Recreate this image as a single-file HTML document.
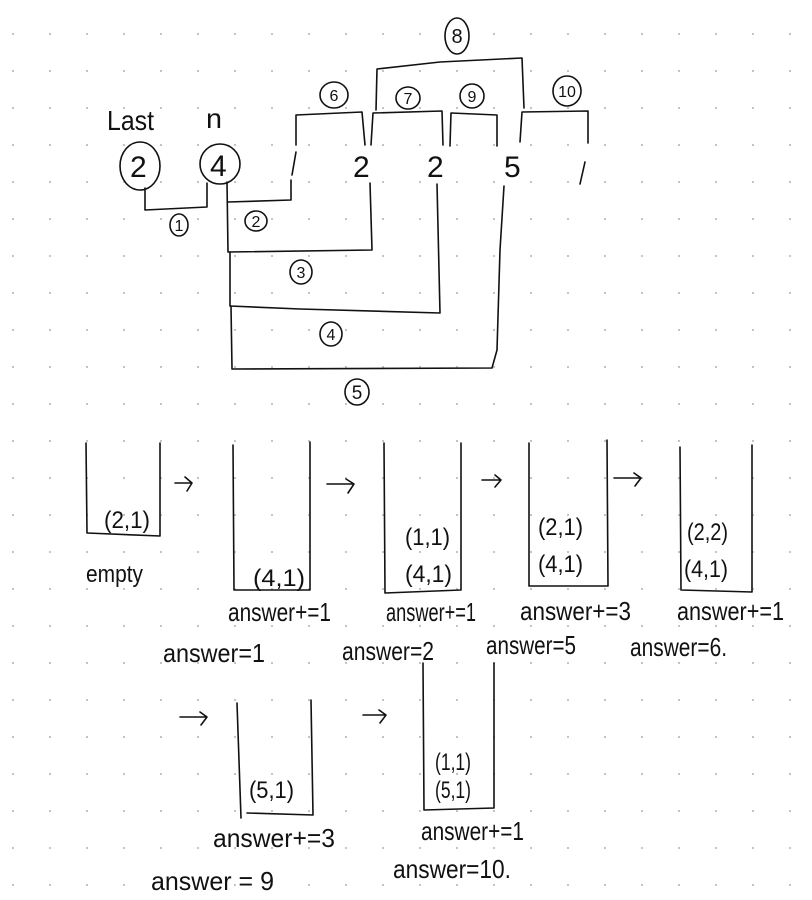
<!DOCTYPE html>
<html><head><meta charset="utf-8"><style>
html,body{margin:0;padding:0;background:#fff;}
svg{display:block;}
text{font-family:"Liberation Sans Narrow","Liberation Sans",sans-serif;fill:#111;}
</style></head><body>
<svg width="812" height="900" viewBox="0 0 812 900" xmlns="http://www.w3.org/2000/svg">
<defs>
<pattern id="dots" x="0" y="0" width="37" height="37" patternUnits="userSpaceOnUse">
<rect x="12" y="33" width="2" height="2" fill="#c4c4c4"/>
</pattern>
</defs>
<rect width="812" height="900" fill="#fff"/>
<rect width="812" height="900" fill="url(#dots)"/>
<g fill="none" stroke="#111" stroke-width="1.6" stroke-linecap="round" stroke-linejoin="round">
<ellipse cx="140" cy="166" rx="20" ry="24"/>
<ellipse cx="220" cy="164" rx="20" ry="20"/>
<path d="M145 188 L145 210 L207 207 L207 183"/>
<path d="M227 182 L228 252 L372 250 L370 183"/>
<path d="M228 202 L291 200 L291 180 M292 175 L296 152"/>
<path d="M230 252 L230 306 L300 309 L440 313 L437 184"/>
<path d="M231 306 L232 369 L492 368 L497 350 L500 250 L504 186"/>
<path d="M296 145 L296 115 L362 112 L365 145"/>
<path d="M371 145 L373 113 L442 111 L443 145"/>
<path d="M450 146 L451 113 L497 115 L497 146"/>
<path d="M376 110 L377 69 L440 62 L522 58 L524 108"/>
<path d="M520 142 L522 112 L588 111 L588 143"/>
<path d="M585 162 L580 184"/>
<ellipse cx="179" cy="225" rx="9" ry="11"/>
<ellipse cx="256" cy="221" rx="11" ry="10"/>
<ellipse cx="301" cy="272" rx="11" ry="12"/>
<ellipse cx="331" cy="334" rx="11" ry="12"/>
<ellipse cx="357" cy="392" rx="12" ry="13"/>
<ellipse cx="334" cy="95" rx="14" ry="13"/>
<ellipse cx="408" cy="98" rx="12" ry="11"/>
<ellipse cx="472" cy="96" rx="12" ry="12"/>
<ellipse cx="457" cy="36" rx="12" ry="18"/>
<ellipse cx="567" cy="91" rx="14" ry="15"/>
<path d="M86 443 L87 533 L160 536 L160 443"/>
<path d="M233 445 L234 590 L310 590 L310 442"/>
<path d="M384 443 L385 593 L461 590 L461 443"/>
<path d="M529 443 L529 586 L608 586 L607 440"/>
<path d="M680 447 L681 590 L752 592 L752 445"/>
<path d="M237 703 L241 818 M247 813 L313 815 L311 700"/>
<path d="M423 663 L424 810 L494 808 L494 663"/>
<path d="M175 483 L192 483 M185 477 L192 483 L187 491"/>
<path d="M327 484 L354 484 M346 479 L354 484 L348 493"/>
<path d="M482 480 L501 480 M495 475 L501 480 L495 487"/>
<path d="M614 478 L641 478 M634 473 L641 478 L635 486"/>
<path d="M180 717 L207 717 M200 712 L207 717 L201 725"/>
<path d="M363 715 L386 715 M379 710 L386 715 L380 723"/>
</g>
<g font-size="28">
<text x="107" y="130" textLength="47" lengthAdjust="spacingAndGlyphs">Last</text>
<text x="206" y="128" textLength="16" lengthAdjust="spacingAndGlyphs">n</text>
<text x="130" y="177" font-size="30">2</text>
<text x="210" y="176" font-size="30">4</text>
<text x="353" y="177" font-size="30">2</text>
<text x="427" y="177" font-size="30">2</text>
<text x="504" y="177" font-size="30">5</text>
</g>
<g font-size="16" text-anchor="middle">
<text x="179" y="231">1</text>
<text x="256" y="227">2</text>
<text x="301" y="278">3</text>
<text x="331" y="340">4</text>
<text x="357" y="399" font-size="19">5</text>
<text x="334" y="101">6</text>
<text x="408" y="104">7</text>
<text x="472" y="102">9</text>
<text x="457" y="43" font-size="20">8</text>
<text x="567" y="97">10</text>
</g>
<g font-size="24">
<text x="104" y="528" textLength="46" lengthAdjust="spacingAndGlyphs">(2,1)</text>
<text x="86" y="582" textLength="57" lengthAdjust="spacingAndGlyphs">empty</text>
<text x="253" y="586" textLength="52" lengthAdjust="spacingAndGlyphs">(4,1)</text>
<text x="405" y="545" textLength="45" lengthAdjust="spacingAndGlyphs">(1,1)</text>
<text x="405" y="582" textLength="47" lengthAdjust="spacingAndGlyphs">(4,1)</text>
<text x="538" y="535" textLength="45" lengthAdjust="spacingAndGlyphs">(2,1)</text>
<text x="538" y="572" textLength="45" lengthAdjust="spacingAndGlyphs">(4,1)</text>
<text x="687" y="540" textLength="41" lengthAdjust="spacingAndGlyphs">(2,2)</text>
<text x="684" y="577" textLength="44" lengthAdjust="spacingAndGlyphs">(4,1)</text>
<text x="249" y="798" textLength="45" lengthAdjust="spacingAndGlyphs">(5,1)</text>
<text x="435" y="770" textLength="36" lengthAdjust="spacingAndGlyphs">(1,1)</text>
<text x="435" y="798" textLength="36" lengthAdjust="spacingAndGlyphs">(5,1)</text>
</g>
<g font-size="26">
<text x="228" y="621" textLength="103" lengthAdjust="spacingAndGlyphs">answer+=1</text>
<text x="163" y="662" textLength="102" lengthAdjust="spacingAndGlyphs">answer=1</text>
<text x="386" y="621" textLength="90" lengthAdjust="spacingAndGlyphs">answer+=1</text>
<text x="342" y="660" textLength="92" lengthAdjust="spacingAndGlyphs">answer=2</text>
<text x="520" y="620" textLength="111" lengthAdjust="spacingAndGlyphs">answer+=3</text>
<text x="486" y="654" textLength="90" lengthAdjust="spacingAndGlyphs">answer=5</text>
<text x="677" y="620" textLength="107" lengthAdjust="spacingAndGlyphs">answer+=1</text>
<text x="630" y="656" textLength="97" lengthAdjust="spacingAndGlyphs">answer=6.</text>
<text x="213" y="847" textLength="122" lengthAdjust="spacingAndGlyphs">answer+=3</text>
<text x="151" y="890" textLength="123" lengthAdjust="spacingAndGlyphs">answer = 9</text>
<text x="421" y="840" textLength="103" lengthAdjust="spacingAndGlyphs">answer+=1</text>
<text x="393" y="878" textLength="118" lengthAdjust="spacingAndGlyphs">answer=10.</text>
</g>
</svg>
</body></html>
